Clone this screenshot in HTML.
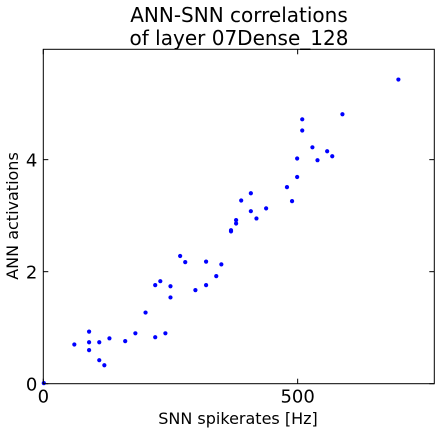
<!DOCTYPE html>
<html><head><meta charset="utf-8"><style>
html,body{margin:0;padding:0;background:#fff;}
svg{display:block;font-family:"DejaVu Sans","Liberation Sans",sans-serif;}
</style></head><body>
<svg id="chart" width="440" height="434">
<text x="239" y="22" text-anchor="middle" font-size="20">ANN-SNN correlations</text>
<text x="239" y="45" text-anchor="middle" font-size="20">of layer 07Dense_128</text>
<text x="238" y="424" text-anchor="middle" font-size="16">SNN spikerates [Hz]</text>
<text transform="translate(18,216) rotate(-90)" text-anchor="middle" font-size="16">ANN activations</text>
<g id="ticks"></g>
<g id="points"></g>
<rect x="43.3" y="49.3" width="391" height="334.4" fill="none" stroke="#000" stroke-width="1"/>
</svg>
<script>
const xs=[698,588,509,509,529,558,568,499,539,499,479,489,408,389,408,438,419,379,379,369,369,269,279,320,350,340,320,299,220,230,250,250,201,181,240,220,161,130,110,90,90,90,61,110,120,1];
const ys=[5.43,4.81,4.72,4.52,4.22,4.15,4.06,4.02,3.99,3.69,3.51,3.26,3.40,3.27,3.08,3.13,2.95,2.92,2.86,2.74,2.72,2.28,2.17,2.18,2.13,1.92,1.76,1.67,1.76,1.83,1.74,1.54,1.27,0.90,0.90,0.83,0.76,0.81,0.74,0.74,0.93,0.60,0.70,0.42,0.33,0.01];
const xTicks=[0,500];
const yTicks=[0,2,4];
const L=43.3,R=434.3,T=49.3,B=383.7;
const xMax=768.6,yMax=5.97;
const sx=v=>L+v/xMax*(R-L);
const sy=v=>B-v/yMax*(B-T);
const NS="http://www.w3.org/2000/svg";
const pg=document.getElementById('points');
xs.forEach((x,i)=>{
 const c=document.createElementNS(NS,'circle');
 c.setAttribute('cx',sx(x));c.setAttribute('cy',sy(ys[i]));c.setAttribute('r',2.1);c.setAttribute('fill','#0000ff');
 
 
 pg.appendChild(c);
});
const tg=document.getElementById('ticks');
function line(x1,y1,x2,y2){const l=document.createElementNS(NS,'line');l.setAttribute('x1',x1);l.setAttribute('y1',y1);l.setAttribute('x2',x2);l.setAttribute('y2',y2);l.setAttribute('stroke','#000');tg.appendChild(l);}
function txt(x,y,s,anchor){const t=document.createElementNS(NS,'text');t.setAttribute('x',x);t.setAttribute('y',y);t.setAttribute('font-size','18');t.setAttribute('text-anchor',anchor);t.textContent=s;
 
 
 tg.appendChild(t);}
xTicks.forEach(v=>{const x=sx(v);line(x,B,x,B-5);line(x,T,x,T+5);txt(x,B+19,String(v),'middle');});
yTicks.forEach(v=>{const y=sy(v);line(L,y,L+5,y);line(R,y,R-5,y);txt(L-6,y+7,String(v),'end');});
</script>
</body></html>
